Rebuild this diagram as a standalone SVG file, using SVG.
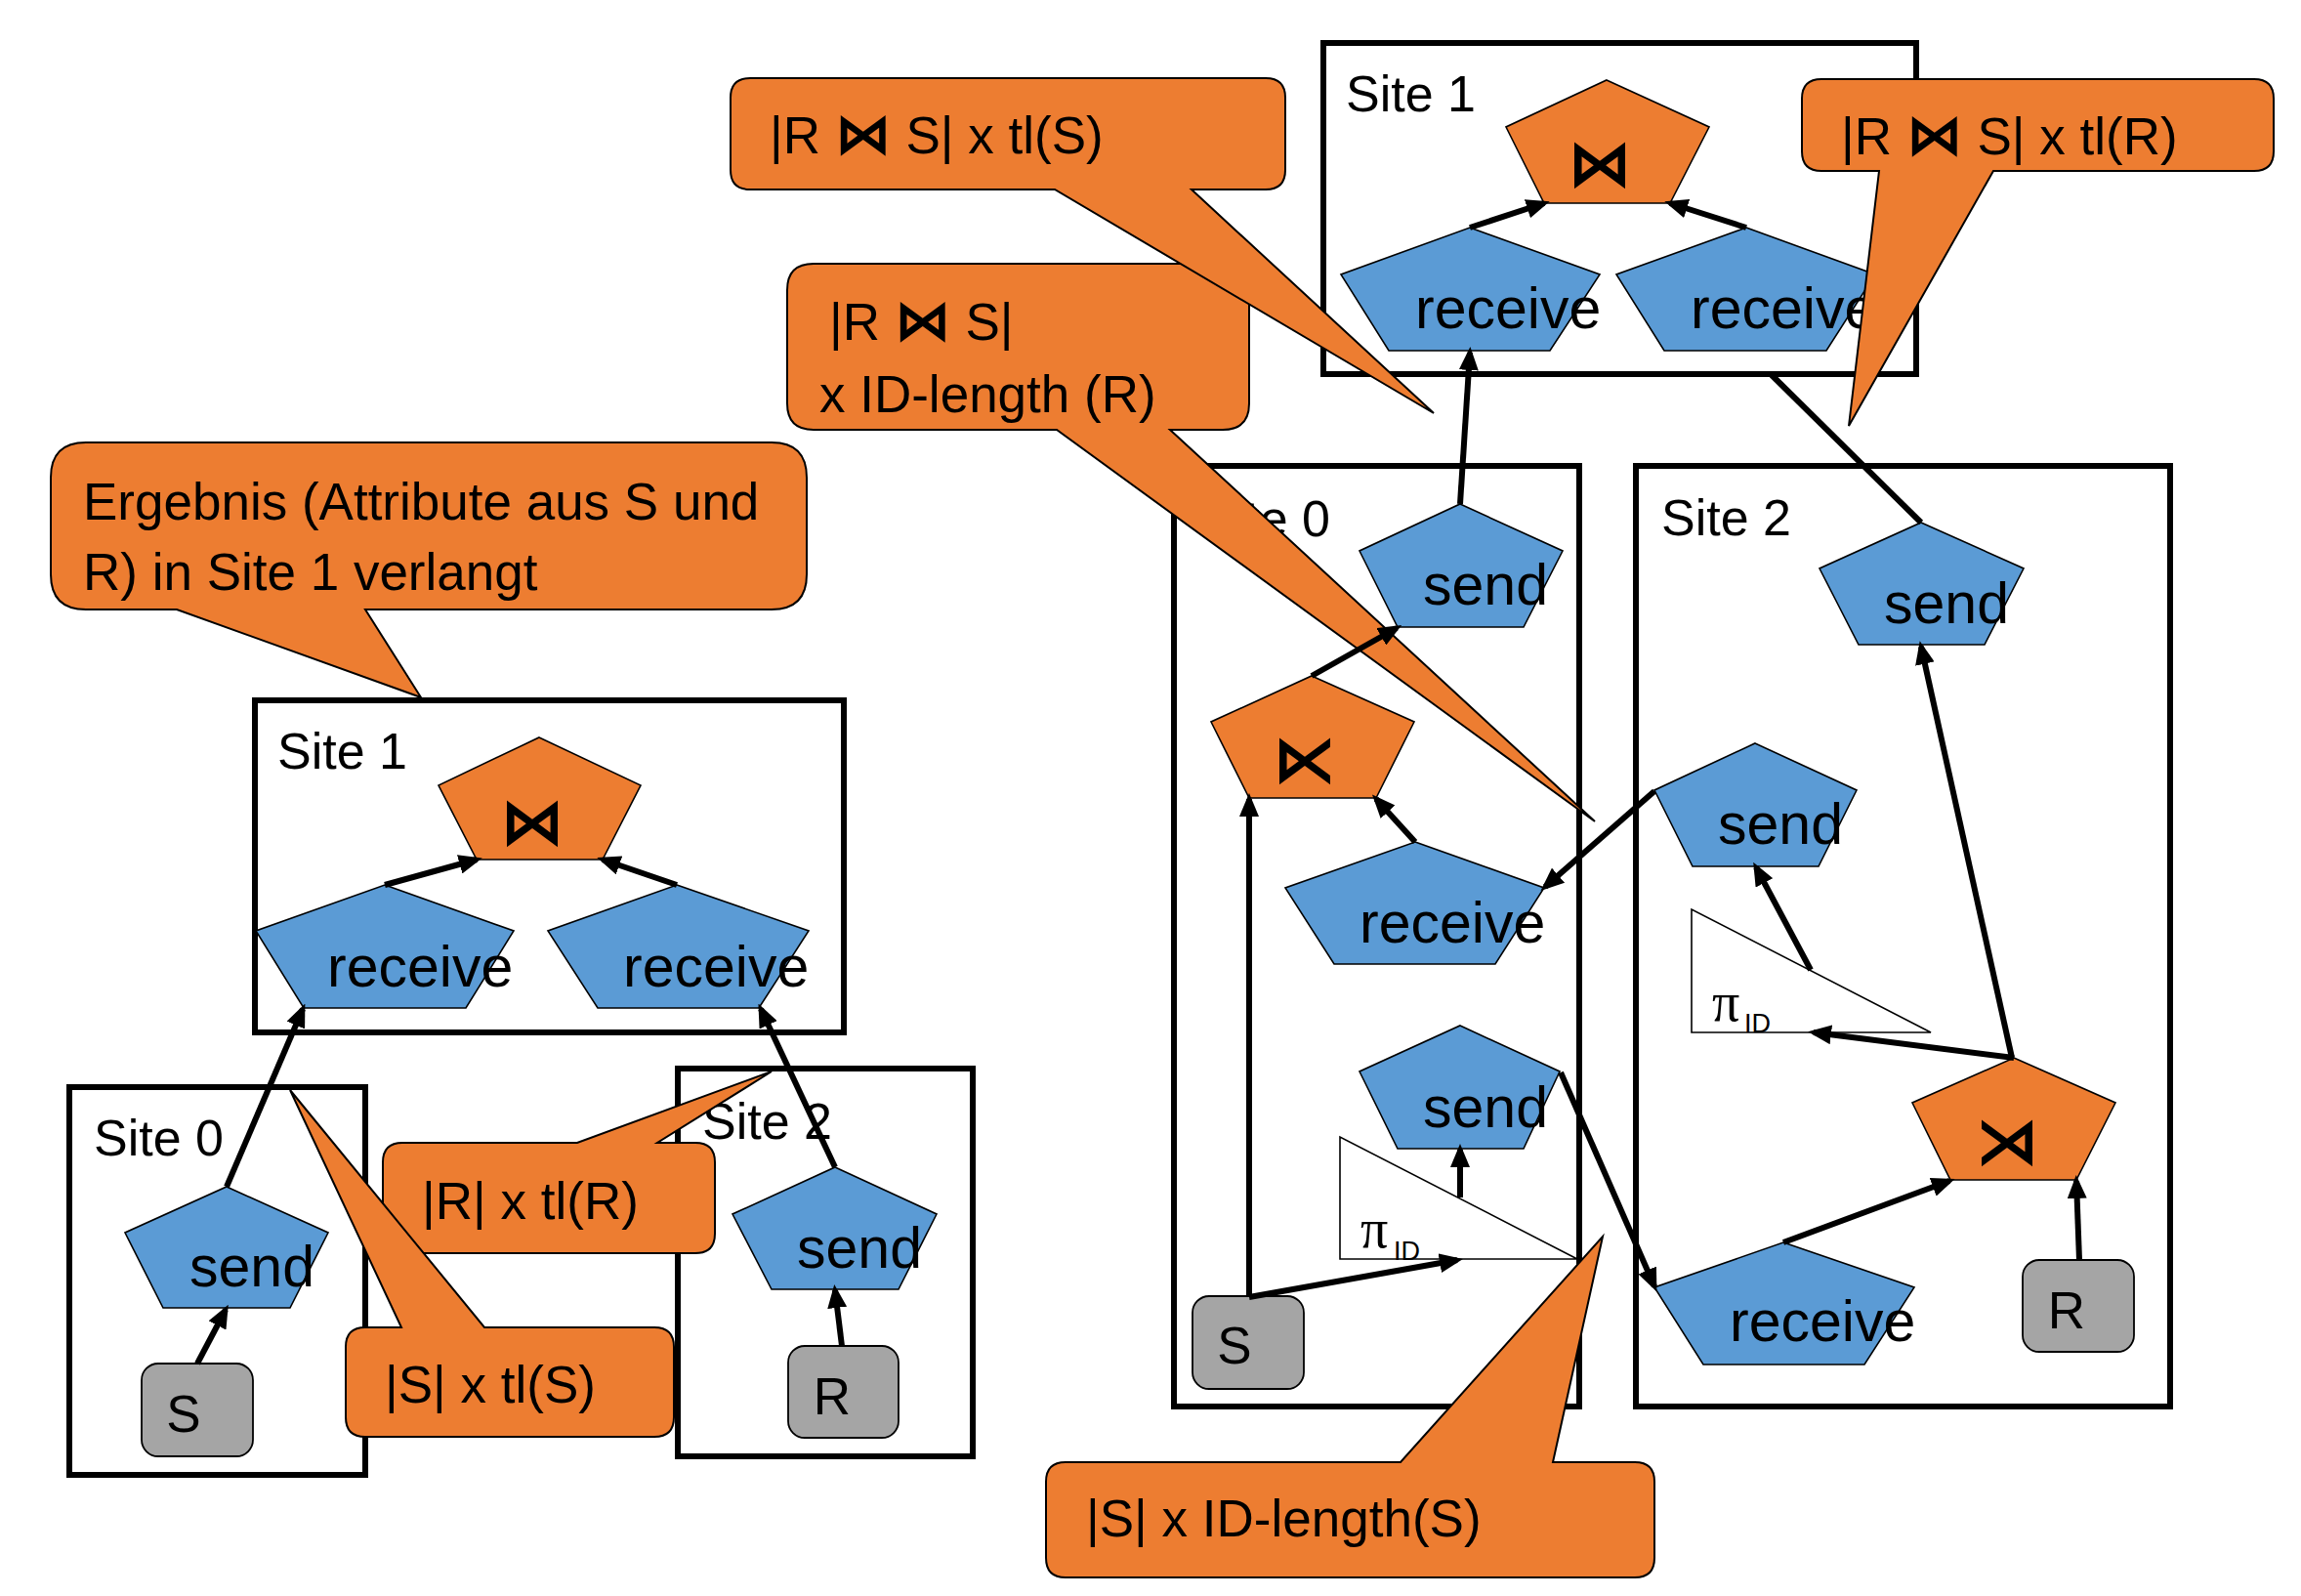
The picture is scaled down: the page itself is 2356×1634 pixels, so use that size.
<svg xmlns="http://www.w3.org/2000/svg" width="2356" height="1634" viewBox="0 0 2356 1634">
<defs>
<style>
.site{fill:none;stroke:#000;stroke-width:6}
.blue{fill:#5B9BD5;stroke:#000;stroke-width:1.6}
.orange{fill:#ED7D31;stroke:#000;stroke-width:1.6}
.gray{fill:#A5A5A5;stroke:#000;stroke-width:1.8}
.call{fill:#ED7D31;stroke:#000;stroke-width:2}
.tri{fill:#fff;stroke:#000;stroke-width:1.6}
.conn line{stroke:#000;stroke-width:6;fill:none}
.arr{marker-end:url(#ah)}
text{font-family:"Liberation Sans",Arial,sans-serif;fill:#000}
.lbl{font-size:52px}
.node{font-size:59px}
.ctext{font-size:53px}
.box{font-size:53px;text-anchor:middle}
.sym{font-family:"DejaVu Sans",sans-serif;font-weight:bold;font-size:66px;text-anchor:middle}
.csym{font-family:"DejaVu Sans",sans-serif;font-weight:bold;font-size:58px}
.pi{font-family:"Liberation Serif","Times New Roman",serif;font-size:56px}
.sub{font-size:27px}
</style>
<marker id="ah" markerUnits="userSpaceOnUse" markerWidth="24" markerHeight="20" viewBox="0 0 24 20" refX="18" refY="10" orient="auto">
<path d="M0,0 L24,10 L0,20 z" fill="#000"/>
</marker>
</defs>
<rect width="2356" height="1634" fill="#fff"/>

<!-- Site boxes -->
<g id="site1-left"><rect class="site" x="261" y="717" width="603" height="340"/><text class="lbl" x="284" y="787">Site 1</text></g>
<g id="site0-left"><rect class="site" x="71" y="1113" width="303" height="397"/><text class="lbl" x="96" y="1183">Site 0</text></g>
<g id="site2-left"><rect class="site" x="694" y="1094" width="302" height="397"/><text class="lbl" x="719" y="1166">Site 2</text></g>
<g id="site1-right"><rect class="site" x="1355" y="44" width="607" height="339"/><text class="lbl" x="1378" y="114">Site 1</text></g>
<g id="site0-right"><rect class="site" x="1202" y="477" width="415" height="963"/><text class="lbl" x="1229" y="549">Site 0</text></g>
<g id="site2-right"><rect class="site" x="1675" y="477" width="547" height="963"/><text class="lbl" x="1701" y="548">Site 2</text></g>

<!-- Nodes: left plan -->
<g id="n-join-l"><polygon class="orange" points="552,755 656,804 617,880 488,880 449,804"/><text class="sym" x="545" y="864">⋈</text></g>
<g id="n-recv-l1"><polygon class="blue" points="394,906 526,953 477,1032 311,1032 262,953"/><text class="node" x="335" y="1010">receive</text></g>
<g id="n-recv-l2"><polygon class="blue" points="693,906 828,953 777,1032 612,1032 561,953"/><text class="node" x="638" y="1010">receive</text></g>
<g id="n-send-l0"><polygon class="blue" points="232,1215 336,1262 297,1339 167,1339 128,1262"/><text class="node" x="194" y="1317">send</text></g>
<g id="n-send-l2"><polygon class="blue" points="855,1195 959,1243 920,1320 790,1320 750,1243"/><text class="node" x="816" y="1298">send</text></g>
<g id="n-S-l"><rect class="gray" x="145" y="1396" width="114" height="95" rx="17"/><text class="box" x="188" y="1466">S</text></g>
<g id="n-R-l"><rect class="gray" x="807" y="1378" width="113" height="94" rx="17"/><text class="box" x="852" y="1448">R</text></g>

<!-- Nodes: right plan -->
<g id="n-join-r"><polygon class="orange" points="1645,82 1750,130 1710,208 1581,208 1542,130"/><text class="sym" x="1638" y="190">⋈</text></g>
<g id="n-recv-r1"><polygon class="blue" points="1505,233 1638,281 1587,359 1422,359 1373,281"/><text class="node" x="1449" y="336">receive</text></g>
<g id="n-recv-r2"><polygon class="blue" points="1788,233 1920,281 1870,359 1704,359 1655,281"/><text class="node" x="1731" y="336">receive</text></g>
<g id="n-send-m1"><polygon class="blue" points="1495,516 1600,564 1560,642 1431,642 1392,564"/><text class="node" x="1457" y="619">send</text></g>
<g id="n-semi-l"><polygon class="orange" points="1343,692 1448,739 1409,817 1279,817 1240,739"/><text class="sym" x="1336" y="800">⋉</text></g>
<g id="n-recv-m"><polygon class="blue" points="1449,862 1581,909 1531,987 1366,987 1316,909"/><text class="node" x="1392" y="965">receive</text></g>
<g id="n-send-m2"><polygon class="blue" points="1495,1050 1597,1097 1560,1176 1431,1176 1392,1097"/><text class="node" x="1457" y="1154">send</text></g>
<g id="n-proj-m"><polygon class="tri" points="1372,1164 1372,1289 1615,1289"/><text class="pi" x="1393" y="1277">π</text><text class="sub" x="1427" y="1290">ID</text></g>
<g id="n-S-m"><rect class="gray" x="1221" y="1327" width="114" height="95" rx="17"/><text class="box" x="1264" y="1396">S</text></g>
<g id="n-send-r1"><polygon class="blue" points="1967,535 2072,582 2032,660 1903,660 1863,582"/><text class="node" x="1929" y="638">send</text></g>
<g id="n-send-r2"><polygon class="blue" points="1797,761 1901,809 1862,887 1733,887 1694,809"/><text class="node" x="1759" y="864">send</text></g>
<g id="n-proj-r"><polygon class="tri" points="1732,931 1732,1057 1977,1057"/><text class="pi" x="1753" y="1045">π</text><text class="sub" x="1786" y="1057">ID</text></g>
<g id="n-semi-r"><polygon class="orange" points="2062,1083 2166,1129 2126,1208 1997,1208 1958,1129"/><text class="sym" x="2055" y="1191">⋊</text></g>
<g id="n-recv-r"><polygon class="blue" points="1826,1272 1960,1318 1909,1397 1744,1397 1694,1318"/><text class="node" x="1771" y="1373">receive</text></g>
<g id="n-R-r"><rect class="gray" x="2071" y="1290" width="114" height="94" rx="17"/><text class="box" x="2116" y="1360">R</text></g>

<!-- Callouts -->
<g id="c-idlen-r">
<path class="call" d="M833,270 H1252 Q1279,270 1279,297 V413 Q1279,440 1252,440 H1198 L1633,841 L1082,440 H833 Q806,440 806,413 V297 Q806,270 833,270 Z"/>
<text class="ctext" x="849" y="348">|R <tspan class="csym">⋈</tspan> S|</text>
<text class="ctext" x="839" y="422">x ID-length (R)</text>
</g>
<g id="c-tl-s-top">
<path class="call" d="M768,80 H1296 Q1316,80 1316,100 V174 Q1316,194 1296,194 H1220 L1468,423 L1080,194 H768 Q748,194 748,174 V100 Q748,80 768,80 Z"/>
<text class="ctext" x="788" y="157">|R <tspan class="csym">⋈</tspan> S|  x tl(S)</text>
</g>
<g id="c-tl-r-top">
<path class="call" d="M1865,81 H2308 Q2328,81 2328,101 V155 Q2328,175 2308,175 H2041 L1893,436 L1924,175 H1865 Q1845,175 1845,155 V101 Q1845,81 1865,81 Z"/>
<text class="ctext" x="1885" y="158">|R <tspan class="csym">⋈</tspan> S|  x tl(R)</text>
</g>
<g id="c-ergebnis">
<path class="call" d="M88,453 H790 Q826,453 826,489 V588 Q826,624 790,624 H374 L431,714 L181,624 H88 Q52,624 52,588 V489 Q52,453 88,453 Z"/>
<text class="ctext" x="85" y="532">Ergebnis (Attribute aus S und</text>
<text class="ctext" x="85" y="604">R) in Site 1 verlangt</text>
</g>
<g id="c-r-tl">
<path class="call" d="M412,1170 H591 L790,1097 L673,1170 H712 Q732,1170 732,1190 V1263 Q732,1283 712,1283 H412 Q392,1283 392,1263 V1190 Q392,1170 412,1170 Z"/>
<text class="ctext" x="432" y="1248">|R|  x tl(R)</text>
</g>
<g id="c-s-tl">
<path class="call" d="M374,1359 H411 L297,1116 L496,1359 H670 Q690,1359 690,1379 V1451 Q690,1471 670,1471 H374 Q354,1471 354,1451 V1379 Q354,1359 374,1359 Z"/>
<text class="ctext" x="394" y="1436">|S|  x tl(S)</text>
</g>
<g id="c-s-idlen">
<path class="call" d="M1091,1497 H1434 L1641,1266 L1590,1497 H1674 Q1694,1497 1694,1517 V1595 Q1694,1615 1674,1615 H1091 Q1071,1615 1071,1595 V1517 Q1071,1497 1091,1497 Z"/>
<text class="ctext" x="1112" y="1573">|S|  x ID-length(S)</text>
</g>

<!-- Connectors -->
<g id="connectors" class="conn">
<line class="arr" x1="202" y1="1396" x2="231" y2="1341"/>
<line class="arr" x1="232" y1="1215" x2="310" y2="1033"/>
<line class="arr" x1="862" y1="1378" x2="855" y2="1321"/>
<line class="arr" x1="855" y1="1195" x2="779" y2="1033"/>
<line class="arr" x1="394" y1="906" x2="488" y2="880"/>
<line class="arr" x1="693" y1="906" x2="617" y2="880"/>
<line class="arr" x1="1505" y1="233" x2="1581" y2="208"/>
<line class="arr" x1="1788" y1="233" x2="1710" y2="208"/>
<line class="arr" x1="1495" y1="516" x2="1505" y2="361"/>
<line x1="1967" y1="535" x2="1814" y2="384"/>
<line class="arr" x1="1343" y1="692" x2="1430" y2="643"/>
<line class="arr" x1="1449" y1="862" x2="1409" y2="818"/>
<line class="arr" x1="1694" y1="810" x2="1582" y2="908"/>
<line class="arr" x1="1279" y1="1328" x2="1279" y2="818"/>
<line class="arr" x1="1279" y1="1328" x2="1492" y2="1290"/>
<line class="arr" x1="1495" y1="1226" x2="1495" y2="1177"/>
<line class="arr" x1="1598" y1="1098" x2="1694" y2="1317"/>
<line class="arr" x1="1826" y1="1272" x2="1996" y2="1209"/>
<line class="arr" x1="2129" y1="1290" x2="2126" y2="1209"/>
<line class="arr" x1="2062" y1="1083" x2="1857" y2="1057"/>
<line class="arr" x1="2060" y1="1083" x2="1967" y2="662"/>
<line class="arr" x1="1854" y1="993" x2="1798" y2="888"/>
</g>
</svg>
